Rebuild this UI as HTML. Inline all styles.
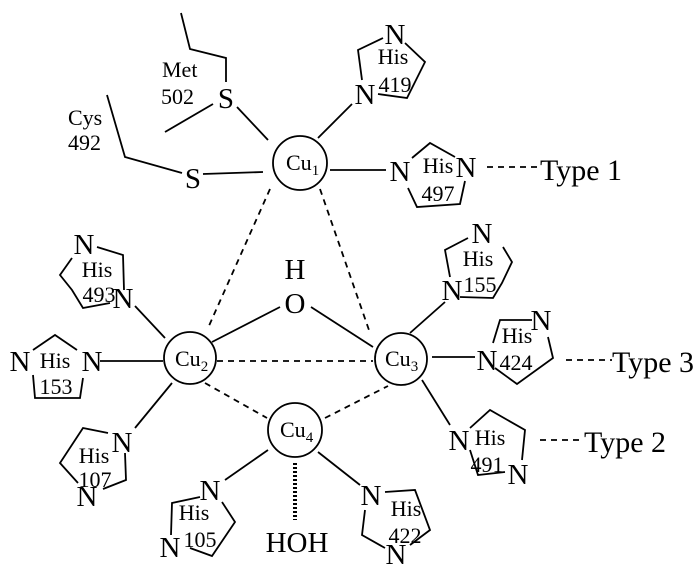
<!DOCTYPE html>
<html><head><meta charset="utf-8"><style>
html,body{margin:0;padding:0;background:#fff;}
svg{display:block;}
text{font-family:"Liberation Serif",serif;fill:#000;}
.b{font-size:29px;text-anchor:middle;}
.s{font-size:22px;text-anchor:middle;}
.l{font-size:30px;}
</style></head><body>
<svg width="700" height="579" viewBox="0 0 700 579" xmlns="http://www.w3.org/2000/svg">
<g stroke="#000" stroke-width="1.8" fill="none">
<polyline points="181,13 190,49 226,58 226,82"/>
<line x1="165" y1="132" x2="213" y2="104"/>
<line x1="237" y1="107" x2="268" y2="140"/>
<polyline points="107,95 125,157 182,173"/>
<line x1="203" y1="174" x2="263" y2="172"/>
<circle cx="300" cy="163" r="27"/>
<circle cx="190" cy="358" r="26"/>
<circle cx="401" cy="359" r="26"/>
<circle cx="295" cy="430" r="27"/>
<line x1="318" y1="138" x2="352" y2="104"/>
<polyline points="405,43 425,62 407,98 378,94"/>
<polyline points="383,38 358,50 362,80"/>
<line x1="330" y1="170" x2="386" y2="170"/>
<polyline points="412,158 430,143 455,157"/>
<polyline points="465,181 460,204 417,207 408,188"/>
<g stroke-dasharray="6,5">
<line x1="270" y1="189" x2="208" y2="328"/>
<line x1="320" y1="189" x2="370" y2="333"/>
<line x1="217" y1="361" x2="373" y2="361"/>
<line x1="205" y1="383" x2="267" y2="418"/>
<line x1="325" y1="418" x2="388" y2="386"/>
<line x1="487" y1="167" x2="540" y2="167"/>
<line x1="566" y1="360" x2="612" y2="360"/>
<line x1="540" y1="440" x2="583" y2="440"/>
</g>
<line x1="212" y1="342" x2="280" y2="307"/>
<line x1="311" y1="307" x2="373" y2="347"/>
<polyline points="97,247 123,255 124,290"/>
<polyline points="72,258 60,275 72,290 83,308 110,303"/>
<line x1="135" y1="306" x2="165" y2="338"/>
<polyline points="33,350 55,335 77,350"/>
<polyline points="33,375 35,398 80,398 83,378"/>
<line x1="100" y1="361" x2="163" y2="361"/>
<line x1="172" y1="383" x2="135" y2="428"/>
<polyline points="108,433 83,428 60,463 78,483"/>
<polyline points="103,489 126,480 125,453"/>
<line x1="268" y1="450" x2="225" y2="480"/>
<polyline points="200,497 172,503 171,535"/>
<polyline points="190,548 212,556 235,522 222,502"/>
<line x1="295" y1="463" x2="295" y2="520" stroke-width="4" stroke-dasharray="2,2"/>
<line x1="318" y1="452" x2="360" y2="485"/>
<polyline points="385,492 415,490 430,530 410,545"/>
<polyline points="365,510 362,535 385,548"/>
<line x1="410" y1="333" x2="445" y2="302"/>
<polyline points="468,238 445,250 450,277"/>
<polyline points="503,247 512,262 502,283 493,298 460,297"/>
<line x1="432" y1="357" x2="475" y2="357"/>
<polyline points="493,343 500,320 532,320"/>
<polyline points="548,337 553,358 517,384 495,368"/>
<line x1="422" y1="380" x2="450" y2="425"/>
<polyline points="470,428 490,410 525,430 522,460"/>
<polyline points="470,450 478,475 505,472"/>
</g>
<text class="b" x="226" y="108">S</text>
<text class="b" x="193" y="188">S</text>
<text x="162" y="77" style="font-size:22px">Met</text>
<text x="161" y="104" style="font-size:22px">502</text>
<text x="68" y="125" style="font-size:22px">Cys</text>
<text x="68" y="150" style="font-size:22px">492</text>
<text x="286" y="170" style="font-size:22px">Cu<tspan font-size="15" dy="5">1</tspan></text>
<text x="175" y="366" style="font-size:22px">Cu<tspan font-size="15" dy="5">2</tspan></text>
<text x="385" y="366" style="font-size:22px">Cu<tspan font-size="15" dy="5">3</tspan></text>
<text x="280" y="437" style="font-size:22px">Cu<tspan font-size="15" dy="5">4</tspan></text>
<text class="b" x="295" y="279">H</text>
<text class="b" x="295" y="313">O</text>
<text class="b" x="297" y="552">HOH</text>
<text class="b" x="395" y="44">N</text>
<text class="b" x="365" y="104">N</text>
<text class="s" x="393" y="64">His</text>
<text class="s" x="395" y="92">419</text>
<text class="b" x="400" y="181">N</text>
<text class="b" x="466" y="177">N</text>
<text class="s" x="438" y="173">His</text>
<text class="s" x="438" y="201">497</text>
<text class="l" x="540" y="180">Type 1</text>
<text class="b" x="84" y="254">N</text>
<text class="b" x="123" y="308">N</text>
<text class="s" x="97" y="277">His</text>
<text class="s" x="99" y="302">493</text>
<text class="b" x="20" y="371">N</text>
<text class="b" x="92" y="371">N</text>
<text class="s" x="55" y="368">His</text>
<text class="s" x="56" y="394">153</text>
<text class="b" x="122" y="452">N</text>
<text class="b" x="87" y="506">N</text>
<text class="s" x="94" y="463">His</text>
<text class="s" x="95" y="487">107</text>
<text class="b" x="210" y="500">N</text>
<text class="b" x="170" y="557">N</text>
<text class="s" x="194" y="520">His</text>
<text class="s" x="200" y="547">105</text>
<text class="b" x="371" y="505">N</text>
<text class="b" x="396" y="564">N</text>
<text class="s" x="406" y="516">His</text>
<text class="s" x="405" y="543">422</text>
<text class="b" x="482" y="243">N</text>
<text class="b" x="452" y="300">N</text>
<text class="s" x="478" y="266">His</text>
<text class="s" x="480" y="292">155</text>
<text class="b" x="487" y="370">N</text>
<text class="b" x="541" y="330">N</text>
<text class="s" x="517" y="343">His</text>
<text class="s" x="516" y="370">424</text>
<text class="l" x="612" y="372">Type 3</text>
<text class="b" x="459" y="450">N</text>
<text class="b" x="518" y="484">N</text>
<text class="s" x="490" y="445">His</text>
<text class="s" x="487" y="472">491</text>
<text class="l" x="584" y="452">Type 2</text>
</svg>
</body></html>
